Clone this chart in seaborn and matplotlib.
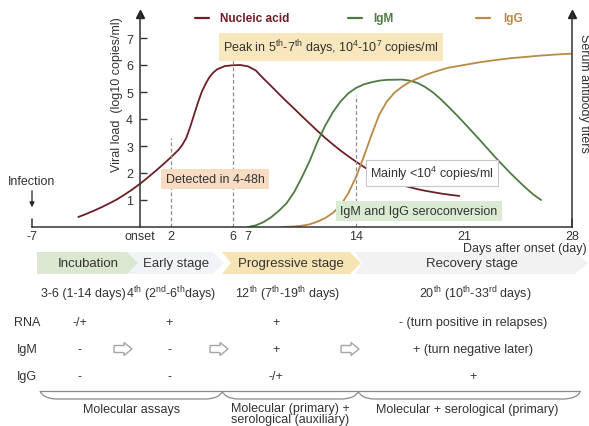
import numpy as np
import pandas as pd
import matplotlib
matplotlib.use("Agg")
import matplotlib.pyplot as plt
import seaborn as sns
from matplotlib.patches import Polygon, PathPatch
from matplotlib.path import Path

# ---------------- data ----------------
days_na = [-4, -3.5, -3, -2.5, -2, -1.5, -1, -0.5, 0, 0.5, 1, 1.5, 2, 2.5, 2.75, 3, 3.25, 3.5,
           3.75, 4, 4.25, 4.5, 4.75, 5, 5.5, 6, 6.5, 7, 7.5, 8, 8.5, 9, 9.5, 10, 10.5, 11, 11.5,
           12, 12.5, 13, 13.5, 14, 14.5, 15, 15.5, 16, 16.5, 17, 17.5, 18, 18.5, 19, 19.5, 20,
           20.7]
nucleic = [0.37, 0.48, 0.6, 0.73, 0.87, 1.02, 1.2, 1.39, 1.6, 1.83, 2.07, 2.32, 2.58, 2.86,
           3.05, 3.3, 3.7, 4.15, 4.6, 5.0, 5.3, 5.55, 5.72, 5.84, 5.96, 5.99, 6.0, 5.95, 5.8,
           5.5, 5.22, 4.93, 4.65, 4.38, 4.1, 3.83, 3.56, 3.3, 3.06, 2.83, 2.62, 2.42, 2.23,
           2.05, 1.9, 1.77, 1.65, 1.55, 1.47, 1.4, 1.34, 1.29, 1.24, 1.2, 1.15]
days_igm = [7, 7.5, 8, 8.5, 9, 9.5, 10, 10.5, 11, 11.5, 12, 12.5, 13, 13.5, 14, 14.5, 15, 15.5,
            16, 17, 17.5, 18, 18.5, 19, 19.5, 20, 20.5, 21, 21.5, 22, 22.5, 23, 23.5, 24, 24.5,
            25, 25.5, 26]
igm = [0, 0.06, 0.18, 0.36, 0.6, 0.88, 1.3, 1.85, 2.45, 3.15, 3.75, 4.25, 4.65, 4.95, 5.15,
       5.28, 5.36, 5.42, 5.45, 5.46, 5.42, 5.33, 5.18, 4.98, 4.73, 4.45, 4.16, 3.86, 3.55,
       3.24, 2.92, 2.6, 2.3, 2.0, 1.72, 1.45, 1.2, 1.0]
days_igg = [9.2, 10, 10.5, 11, 11.5, 12, 12.5, 13, 13.5, 14, 14.5, 15, 15.5, 16, 16.5, 17, 17.5,
            18, 18.5, 19, 19.5, 20, 21, 22, 23, 24, 25, 26, 27, 28]
igg = [0, 0.02, 0.05, 0.1, 0.2, 0.33, 0.52, 0.8, 1.25, 1.85, 2.6, 3.4, 4.15, 4.65, 4.98, 5.2,
       5.38, 5.5, 5.63, 5.73, 5.82, 5.9, 6.0, 6.1, 6.18, 6.25, 6.3, 6.35, 6.39, 6.42]

series_names = ["Nucleic acid", "IgM", "IgG"]
series_colors = {"Nucleic acid": "#6e1f26", "IgM": "#4e7b42", "IgG": "#b88a45"}

xtick_vals = [-7, 0, 2, 6, 7, 14, 21, 28]
xtick_labels = ["-7", "onset", "2", "6", "7", "14", "21", "28"]
ytick_vals = [1, 2, 3, 4, 5, 6, 7]

stages = ["Incubation", "Early stage", "Progressive stage", "Recovery stage"]
durations = [r"3-6 (1-14 days)",
             r"4$^{\mathrm{th}}$ (2$^{\mathrm{nd}}$-6$^{\mathrm{th}}$days)",
             r"12$^{\mathrm{th}}$ (7$^{\mathrm{th}}$-19$^{\mathrm{th}}$ days)",
             r"20$^{\mathrm{th}}$ (10$^{\mathrm{th}}$-33$^{\mathrm{rd}}$ days)"]
row_labels = ["RNA", "IgM", "IgG"]
row_values = [["-/+", "+", "+", "- (turn positive in relapses)"],
              ["-", "-", "+", "+ (turn negative later)"],
              ["-", "-", "-/+", "+"]]
assays = ["Molecular assays", "Molecular (primary) +", "serological (auxiliary)",
          "Molecular + serological (primary)"]

# ---------------- style ----------------
sns.set_theme(style="white")
plt.rcParams["font.family"] = ["Liberation Sans", "DejaVu Sans"]
plt.rcParams["mathtext.fontset"] = "custom"
plt.rcParams["mathtext.rm"] = "Liberation Sans"
plt.rcParams["mathtext.it"] = "Liberation Sans:italic"
plt.rcParams["mathtext.bf"] = "Liberation Sans:bold"
TXT = "#333333"
FS = 9

W, H = 589, 427
fig = plt.figure(figsize=(W / 100, H / 100), dpi=100)
fig.patch.set_facecolor("white")

ymax = 213 / 27.0
ax = fig.add_axes([32 / W, (H - 228) / H, 540 / W, 213 / H])
ax.set_facecolor("none")

df = pd.concat([
    pd.DataFrame({"day": days_na, "value": nucleic, "series": "Nucleic acid"}),
    pd.DataFrame({"day": days_igm, "value": igm, "series": "IgM"}),
    pd.DataFrame({"day": days_igg, "value": igg, "series": "IgG"}),
])
sns.lineplot(data=df, x="day", y="value", hue="series", palette=series_colors,
             hue_order=series_names, sort=False, estimator=None, lw=1.3,
             legend=False, ax=ax)
for ln in ax.lines:
    ln.set_solid_joinstyle("round")

ax.set_xlim(-7, 28)
ax.set_ylim(0, ymax)
ax.set_xlabel("")
ax.set_ylabel("")
ax.spines["top"].set_visible(False)
ax.spines["left"].set_position(("data", 0))
for s in ["left", "right", "bottom"]:
    ax.spines[s].set_color("#333333")
    ax.spines[s].set_linewidth(1.1)
ax.set_xticks(xtick_vals)
ax.set_xticklabels(xtick_labels)
ax.tick_params(axis="x", length=0, pad=2, labelsize=FS, labelcolor=TXT)
ax.set_yticks(ytick_vals)
ax.tick_params(axis="y", direction="in", length=5, width=1, pad=5, labelsize=FS,
               labelcolor=TXT, color="#333333", left=True)
ax.plot([-7, -7], [0, 0.3], color="#333333", lw=1.1, clip_on=False)
ax.plot([28, 28], [0, 0.3], color="#333333", lw=1.1, clip_on=False)
ax.plot([0, 28], [ymax, ymax], ls="none", marker="^", ms=6, color="#222222", clip_on=False)

dash = dict(color="#8c8c8c", lw=0.9, ls=(0, (3, 2)))
ax.plot([2, 2], [0, 3.3], **dash)
ax.plot([6, 6], [0, 6.35], **dash)
ax.plot([14, 14], [0, 4.9], **dash)

# ---------------- overlay (pixel coords) ----------------
ov = fig.add_axes([0, 0, 1, 1])
ov.set_xlim(0, W)
ov.set_ylim(H, 0)
ov.axis("off")
ov.patch.set_alpha(0)

leg = [(195, 220, "Nucleic acid"), (348, 373, "IgM"), (476, 503, "IgG")]
for x0, xt, name in leg:
    ov.plot([x0, x0 + 14], [19, 19], color=series_colors[name], lw=1.6)
    ov.text(xt, 19, name, color=series_colors[name], fontsize=8.5, fontweight="bold",
            ha="left", va="center")

ov.text(117, 95, "Viral load  (log10 copies/ml)", rotation=90, ha="center", va="center",
        fontsize=FS, color=TXT)
ov.text(584, 93, "Serum antibody titers", rotation=-90, ha="center", va="center",
        fontsize=FS, color=TXT)
ov.text(525, 249, "Days after onset (day)", ha="center", va="center", fontsize=FS, color=TXT)

ov.text(32, 182, "Infection", ha="center", va="center", fontsize=FS, color=TXT)
ov.annotate("", xy=(32, 211), xytext=(32, 189),
            arrowprops=dict(arrowstyle="-|>", color="#222222", lw=0.9, mutation_scale=7))

def box(cx, cy, txt, fc, ec="none"):
    ov.text(cx, cy, txt, ha="center", va="center", fontsize=FS, color=TXT,
            bbox=dict(boxstyle="square,pad=0.35", fc=fc, ec=ec, lw=0.8))

box(331, 48, r"Peak in 5$^{\mathrm{th}}$-7$^{\mathrm{th}}$ days, 10$^{4}$-10$^{7}$ copies/ml", "#f8e7bd")
box(215, 180, "Detected in 4-48h", "#f7dcc3")
box(432, 174, r"Mainly <10$^{4}$ copies/ml", "white", ec="#c8c8c8")
box(419, 212, "IgM and IgG seroconversion", "#dbead3")

yt, yb, ym = 253, 275, 264
arrows = [
    ([(355, yt), (575, yt), (588, ym), (575, yb), (355, yb), (362, ym)], "#f2f2f2"),
    ([(222, yt), (350, yt), (361, ym), (350, yb), (222, yb), (231, ym)], "#f6e4b4"),
    ([(127, yt), (213, yt), (224, ym), (213, yb), (127, yb), (136, ym)], "#f1f4f6"),
    ([(37, yt), (127, yt), (138, ym), (127, yb), (37, yb)], "#dbe7d1"),
]
for pts, c in arrows:
    ov.add_patch(Polygon(pts, closed=True, fc=c, ec="none"))
stage_x = [88, 176, 291, 472]
for x, s in zip(stage_x, stages):
    ov.text(x, ym, s, ha="center", va="center", fontsize=9.5, color=TXT)

dur_x = [83, 171, 288, 475]
for x, s in zip(dur_x, durations):
    ov.text(x, 294, s, ha="center", va="center", fontsize=FS, color=TXT)

row_y = [323, 350, 377]
col_x = [80, 169, 276, 473]
for y, lab, vals in zip(row_y, row_labels, row_values):
    ov.text(27, y, lab, ha="center", va="center", fontsize=FS, color=TXT)
    for x, v in zip(col_x, vals):
        ov.text(x, y, v, ha="center", va="center", fontsize=FS, color=TXT)

for cx in [123, 219, 350]:
    cy = 350
    pts = [(cx - 9, cy - 3.5), (cx + 1, cy - 3.5), (cx + 1, cy - 6.5), (cx + 9, cy),
           (cx + 1, cy + 6.5), (cx + 1, cy + 3.5), (cx - 9, cy + 3.5)]
    ov.add_patch(Polygon(pts, closed=True, fc="white", ec="#a5a5a5", lw=1))

bc = "#8a8a8a"
ov.plot([40, 580], [392, 392], color=bc, lw=0.9)
segs = [(40, 222), (222, 358), (358, 580)]
for a, b in segs:
    p = Path([(a, 392), (a + 3, 399.5), (a + 16, 400), (b - 16, 400), (b - 3, 399.5), (b, 393)],
             [Path.MOVETO, Path.CURVE3, Path.CURVE3, Path.LINETO, Path.CURVE3, Path.CURVE3])
    ov.add_patch(PathPatch(p, fc="none", ec=bc, lw=0.9))

ov.text(132, 410, assays[0], ha="center", va="center", fontsize=FS, color=TXT)
ov.text(290, 409, assays[1], ha="center", va="center", fontsize=FS, color=TXT)
ov.text(290, 420, assays[2], ha="center", va="center", fontsize=FS, color=TXT)
ov.text(467, 410, assays[3], ha="center", va="center", fontsize=FS, color=TXT)

fig.savefig("out.png", dpi=100)
